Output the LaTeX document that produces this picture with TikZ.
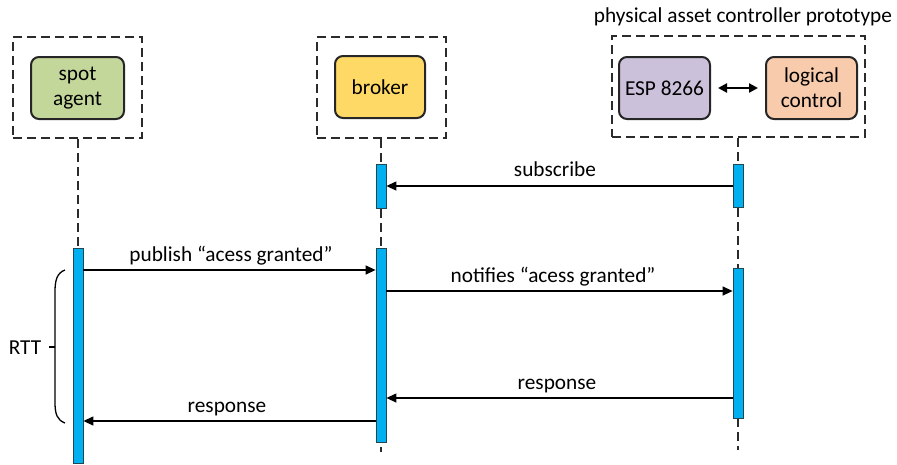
\documentclass[tikz,border=0pt]{standalone}
\usepackage{fontspec}
\setmainfont{Carlito}
\usetikzlibrary{arrows.meta}
\definecolor{agentgreen}{HTML}{C4D79B}
\definecolor{brokeryellow}{HTML}{FFD966}
\definecolor{esplilac}{HTML}{CCC1DA}
\definecolor{logicorange}{HTML}{F8CBAD}
\definecolor{barblue}{HTML}{00B0F0}
\definecolor{edgegray}{HTML}{2B2B2B}
\begin{document}
\begin{tikzpicture}[x=1pt,y=-1pt,
  font=\fontsize{21.3}{25}\selectfont,
  frame/.style={draw=edgegray,line width=2pt,dash pattern=on 9pt off 5pt,minimum width=#1,minimum height=101pt,inner sep=0pt},
  actor/.style={draw=black!85,line width=2pt,rounded corners=8pt,minimum height=62pt,minimum width=91pt,inner sep=2pt,align=center},
  lifeline/.style={draw=edgegray,line width=1.6pt,dash pattern=on 9pt off 5pt},
  bar/.style={draw=edgegray!80!barblue,line width=0.8pt,fill=barblue,minimum width=10pt,minimum height=#1,inner sep=0pt},
  msg/.style={line width=1.3pt,-{Triangle[length=10pt,width=9pt]}},
  msglabel/.style={inner sep=0pt,anchor=base}]
\useasboundingbox (0,0) rectangle (897,464);

% participant frames
\node[frame=129pt] (fa) at (77.5,87.5) {};
\node[frame=129pt] (fb) at (381.5,87.5) {};
\node[frame=253pt] (fc) at (738.5,86.5) {};
\node[anchor=base] (title) at (743,22) {physical asset controller prototype};

% participants
\node[actor,fill=agentgreen,minimum width=93pt] (spot) at (77.5,88) {spot\\agent};
\node[actor,fill=brokeryellow,minimum width=90pt] (broker) at (380,87) {broker};
\node[actor,fill=esplilac] (esp) at (664.5,88) {ESP 8266};
\node[actor,fill=logicorange] (logic) at (811.5,88) {logical\\control};
\draw[line width=2.2pt,{Triangle[length=9pt,width=9pt]}-{Triangle[length=9pt,width=9pt]},shorten <=7pt,shorten >=7pt] (esp.east) -- (logic.west);

% lifelines end points
\coordinate (ea) at (78,464);
\coordinate (eb) at (381,452);
\coordinate (ec) at (738,450);
\draw[lifeline] (fa.south -| ea) -- (ea);
\draw[lifeline] (fb.south -| eb) -- (eb);
\draw[lifeline] (fc.south -| ec) -- (ec);

% activation bars
\node[bar=215pt,anchor=north] (a1) at (78,248) {};
\node[bar=44pt,anchor=north] (b1) at (381,164) {};
\node[bar=194pt,anchor=north] (b2) at (381,248) {};
\node[bar=43pt,anchor=north] (c1) at (738,164) {};
\node[bar=150pt,anchor=north] (c2) at (738,268) {};

% message levels
\coordinate (ysub) at (0,186);
\coordinate (ypub) at (0,270);
\coordinate (ynot) at (0,291);
\coordinate (yres1) at (0,398);
\coordinate (yres2) at (0,421);

\draw[msg] (c1.west |- ysub) -- (b1.east |- ysub);
\node[msglabel] (lsub) at (555,176) {subscribe};
\draw[msg] (a1.east |- ypub) -- (b2.west |- ypub);
\node[msglabel] (lpub) at (231,261) {publish “acess granted”};
\draw[msg] (b2.east |- ynot) -- (c2.west |- ynot);
\node[msglabel] (lnot) at (553,282) {notifies “acess granted”};
\draw[msg] (c2.west |- yres1) -- (b2.east |- yres1);
\node[msglabel] (lres1) at (557,389) {response};
\draw[msg] (b2.west |- yres2) -- (a1.east |- yres2);
\node[msglabel] (lres2) at (227,412) {response};

% round-trip time brace
\draw[line width=1.3pt] (65,270) .. controls (57,273) and (55,280) .. (55,292) -- (55,402)
  .. controls (55,414) and (57,420) .. (65,423);
\draw[line width=1.3pt] (49,347) -- (55,347);
\node[anchor=base] (rtt) at (25,354) {RTT};
\end{tikzpicture}
\end{document}
